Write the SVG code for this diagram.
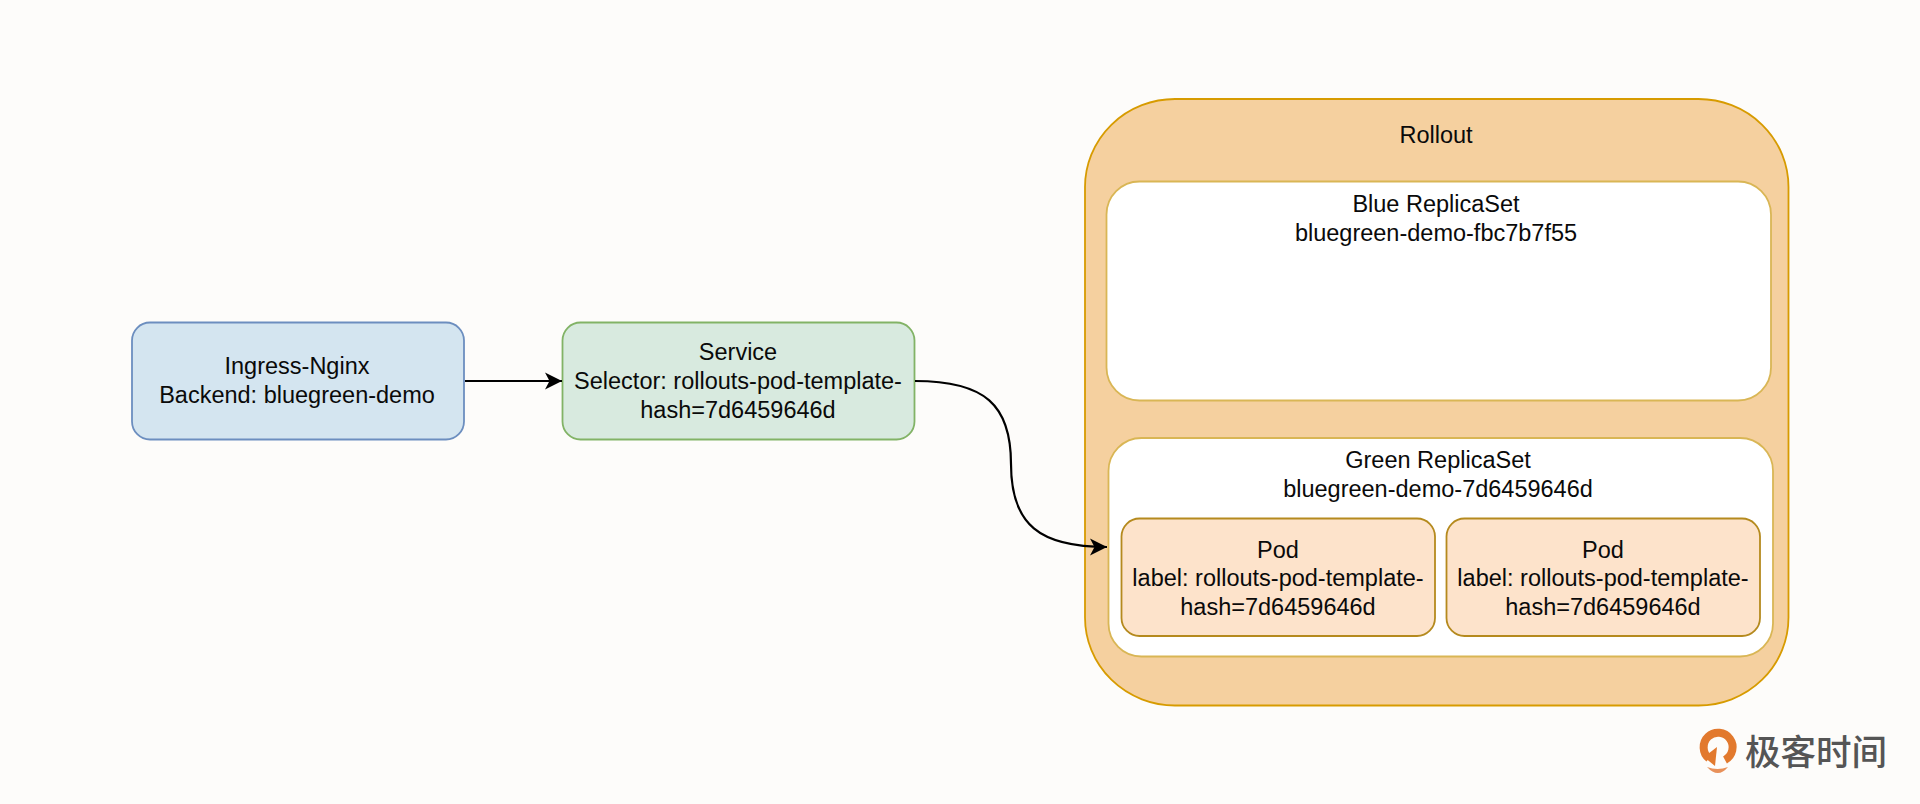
<svg xmlns="http://www.w3.org/2000/svg" width="1920" height="804" viewBox="0 0 1920 804">
<defs>
<marker id="arrow" markerUnits="userSpaceOnUse" markerWidth="19" markerHeight="19" refX="17" refY="9" orient="auto">
<path d="M0 0.500 L17 9 L0 17.500 L4.500 9 Z" fill="#000"/>
</marker>
</defs>
<style>
text{font-family:"Liberation Sans",Arial,sans-serif;font-size:23.5px;fill:#0a0a0a;text-anchor:middle}
.box{stroke-width:1.8}
.conn{fill:none;stroke:#000;stroke-width:2.2;marker-end:url(#arrow)}
.blue{fill:#d4e5f0;stroke:#6c8ebf}
.green{fill:#d8eadf;stroke:#82b366}
.rollout{fill:#f5d09f;stroke:#d79b00}
.rs{fill:#fff;stroke:#d9b655}
.pod{fill:#fde3cb;stroke:#b58a1e}
.logo{font-family:"Noto Sans CJK SC","Noto Sans",sans-serif;font-size:35.5px;font-weight:500;fill:#555;text-anchor:start}
</style>
<rect width="1920" height="804" fill="#fdfcfa"/>
<g id="rollout">
<rect class="box rollout" x="1085" y="99" width="703.500" height="606.500" rx="90" ry="88"/>
<text x="1436" y="143">Rollout</text>
</g>
<g id="blue-replicaset">
<rect class="box rs" x="1106.500" y="181.500" width="664.500" height="219" rx="33" ry="33"/>
<text x="1436" y="211.500">Blue ReplicaSet</text>
<text x="1436" y="241">bluegreen-demo-fbc7b7f55</text>
</g>
<g id="green-replicaset">
<rect class="box rs" x="1108.500" y="438" width="664.500" height="218.500" rx="33" ry="33"/>
<text x="1438" y="468">Green ReplicaSet</text>
<text x="1438" y="497">bluegreen-demo-7d6459646d</text>
</g>
<g id="pod-1">
<rect class="box pod" x="1121.500" y="518.500" width="313.500" height="117.500" rx="18" ry="18"/>
<text x="1278" y="558">Pod</text>
<text x="1278" y="586">label: rollouts-pod-template-</text>
<text x="1278" y="615">hash=7d6459646d</text>
</g>
<g id="pod-2">
<rect class="box pod" x="1446.500" y="518.500" width="313.500" height="117.500" rx="18" ry="18"/>
<text x="1603" y="558">Pod</text>
<text x="1603" y="586">label: rollouts-pod-template-</text>
<text x="1603" y="615">hash=7d6459646d</text>
</g>
<g id="ingress-nginx">
<rect class="box blue" x="132" y="322.500" width="332" height="117" rx="18" ry="18"/>
<text x="297" y="374">Ingress-Nginx</text>
<text x="297" y="403">Backend: bluegreen-demo</text>
</g>
<g id="service">
<rect class="box green" x="562.500" y="322.500" width="352" height="117" rx="18" ry="18"/>
<text x="738" y="360">Service</text>
<text x="738" y="389">Selector: rollouts-pod-template-</text>
<text x="738" y="418">hash=7d6459646d</text>
</g>
<g id="connectors">
<path class="conn" d="M465 381 H562"/>
<path class="conn" d="M915 381 C985 381 1011 405 1011 464 C1011 525 1040 547 1107 547"/>
</g>
<g id="logo">
<path d="M1725 760 A14.500 14.500 0 1 0 1709 758.500" fill="none" stroke="#e2792d" stroke-width="8"/>
<path d="M1717 747 L1704 757 L1715 766 Z" fill="#e2792d"/>
<path d="M1707 767 Q1717.500 771 1728 767 Q1718 779 1707 767 Z" fill="#e8915a"/>
<text class="logo" x="1745" y="765">极客时间</text>
</g>
</svg>
